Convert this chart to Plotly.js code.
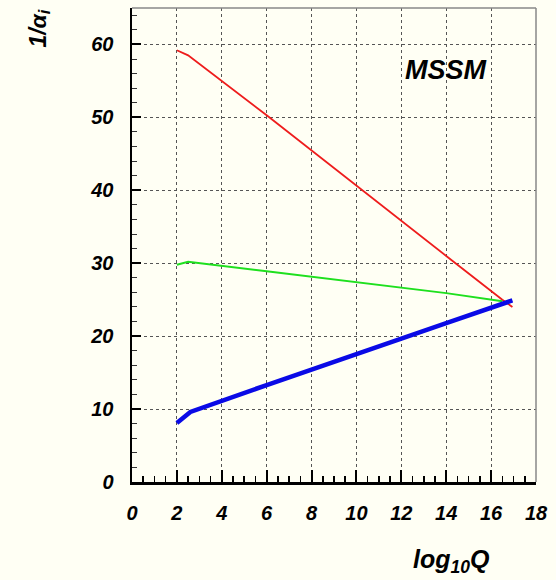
<!DOCTYPE html>
<html>
<head>
<meta charset="utf-8">
<script src="https://cdn.plot.ly/plotly-3.0.1.min.js"></script>
<style>html,body{margin:0;padding:0;background:#fffff4;}</style>
</head>
<body>
<div id="chart" style="width:556px;height:580px;"></div>
<script>
// log10 Q values and inverse couplings
const q1 = [2.0, 2.5, 6.0, 10.0, 14.0, 16.5, 16.95];
const invAlpha1 = [59.2, 58.5, 50.3, 40.6, 31.0, 25.0, 24.0];
const q2 = [2.0, 2.5, 6.0, 10.0, 14.0, 16.5];
const invAlpha2 = [29.8, 30.2, 28.9, 27.4, 25.9, 24.8];
const q3 = [2.0, 2.6, 6.0, 10.0, 14.0, 16.95];
const invAlpha3 = [8.1, 9.6, 13.3, 17.6, 21.8, 24.9];
const xTicks = [0, 2, 4, 6, 8, 10, 12, 14, 16, 18];
const yTicks = [0, 10, 20, 30, 40, 50, 60];
const label = "MSSM";

const bg = '#fffff4';
const tickFont = {family: 'Liberation Sans, Arial, sans-serif', size: 20, color: '#000', weight: 'bold', style: 'italic'};

const traces = [
  {x: q1, y: invAlpha1, mode: 'lines', line: {color: '#ee1c1c', width: 1.8}, hoverinfo: 'skip'},
  {x: q2, y: invAlpha2, mode: 'lines', line: {color: '#1ee01e', width: 2}, hoverinfo: 'skip'},
  {x: q3, y: invAlpha3, mode: 'lines', line: {color: '#0a0ae6', width: 4.5}, hoverinfo: 'skip'}
];

const layout = {
  width: 556, height: 580,
  margin: {l: 132, r: 20, t: 8, b: 98},
  paper_bgcolor: bg, plot_bgcolor: bg,
  showlegend: false,
  xaxis: {
    range: [0, 18], tickvals: xTicks, ticktext: xTicks.map(String),
    ticks: 'inside', ticklen: 12, tickwidth: 2, tickcolor: '#000',
    showline: true, linecolor: '#000', linewidth: 2.5,
    showgrid: true, gridcolor: '#555', griddash: 'dot', gridwidth: 1,
    zeroline: false, tickfont: tickFont, ticklabelstandoff: 11,
    minor: {dtick: 0.5, ticks: 'inside', ticklen: 6, tickwidth: 1.5, tickcolor: '#000', showgrid: false}
  },
  yaxis: {
    range: [0, 65], tickvals: yTicks, ticktext: yTicks.map(String),
    ticks: 'inside', ticklen: 9, tickwidth: 2, tickcolor: '#000',
    showline: true, linecolor: '#000', linewidth: 2.5,
    showgrid: true, gridcolor: '#555', griddash: 'dot', gridwidth: 1,
    zeroline: false, tickfont: tickFont, ticklabelstandoff: 12,
    minor: {dtick: 2, ticks: 'inside', ticklen: 5, tickwidth: 1, tickcolor: '#333', showgrid: false}
  },
  shapes: [
    {type: 'line', xref: 'paper', yref: 'paper', x0: 0, x1: 1, y0: 1, y1: 1, line: {color: '#888', width: 1.5}},
    {type: 'line', xref: 'paper', yref: 'paper', x0: 1, x1: 1, y0: 0, y1: 1, line: {color: '#888', width: 1.5}}
  ],
  annotations: [
    {x: 14.0, y: 56.5, xref: 'x', yref: 'y', text: label, showarrow: false,
     font: {family: 'Liberation Sans, Arial, sans-serif', size: 27, color: '#000', weight: 'bold', style: 'italic'}},
    {x: -0.272, y: 1.0, xref: 'paper', yref: 'paper', text: '1/α<sub>i</sub>', textangle: -90, showarrow: false,
     font: {family: 'Liberation Sans, Arial, sans-serif', size: 23, color: '#000', weight: 'bold', style: 'italic'}},
    {x: 0.891, y: -0.205, xref: 'paper', yref: 'paper', text: 'log<sub>10</sub>Q', showarrow: false,
     font: {family: 'Liberation Sans, Arial, sans-serif', size: 25, color: '#000', weight: 'bold', style: 'italic'}}
  ]
};

Plotly.newPlot('chart', traces, layout, {displayModeBar: false, staticPlot: true});
</script>
</body>
</html>
